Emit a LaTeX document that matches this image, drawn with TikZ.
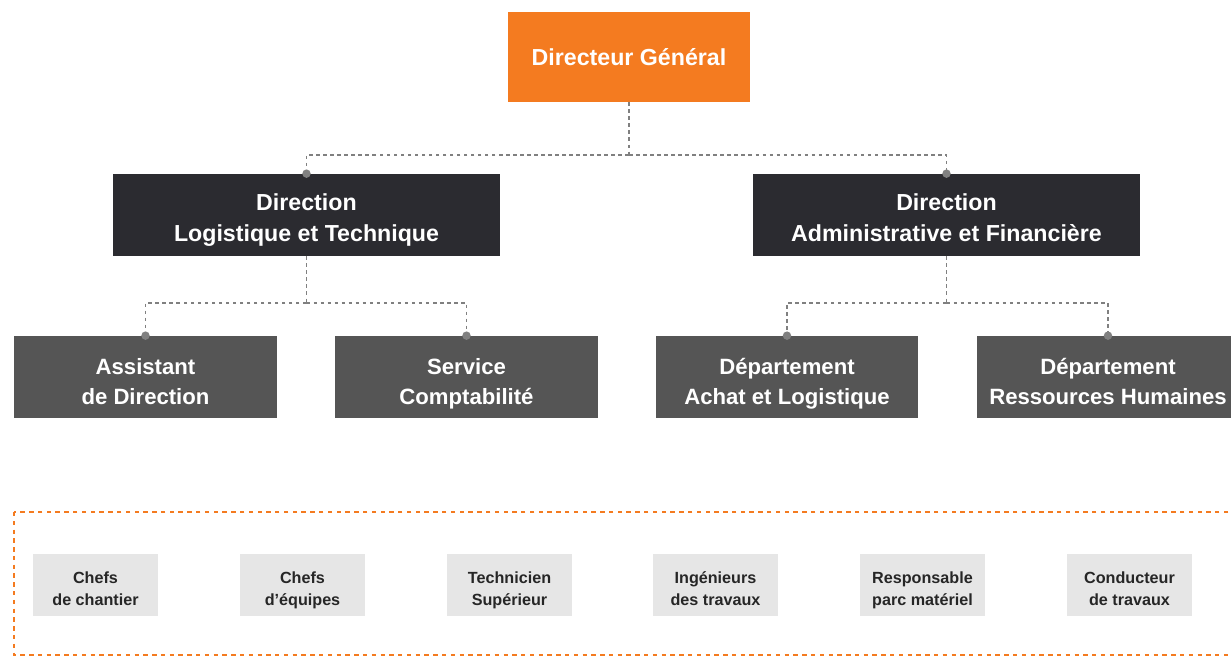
\documentclass[tikz,border=0pt]{standalone}
\usepackage{fontspec}
\setmainfont{Liberation Sans}
\usepackage{xcolor}
\usepackage{tikz}
\definecolor{dgorange}{HTML}{F47B20}
\definecolor{dirdark}{HTML}{2B2B30}
\definecolor{deptgrey}{HTML}{555555}
\definecolor{jobgrey}{HTML}{E6E6E6}
\definecolor{linkgrey}{HTML}{808080}
\newcommand\lift{}
\newcommand\unit[4]{\node[#1] (#2) at (#3) {\lift#4\strut};}
\newcommand\branch[2]{\draw[link] (#1) -| (#2.north); \fill[knob] (#2.north) circle (2.4pt);}

\begin{document}
\begin{tikzpicture}[x=0.02cm,y=-0.02cm]
\tikzstyle{box}=[align=center,inner sep=0pt,text=white]
\tikzstyle{head}=[box,fill=dgorange,minimum width=4.84cm,minimum height=1.8cm,font=\bfseries\fontsize{13.2}{17.5}\selectfont\def\lift{\rule{0pt}{14.5pt}}]
\tikzstyle{dir}=[box,fill=dirdark,minimum width=7.74cm,minimum height=1.64cm,font=\bfseries\fontsize{13.2}{17.5}\selectfont\def\lift{\rule{0pt}{18pt}}]
\tikzstyle{dept}=[box,fill=deptgrey,minimum width=5.26cm,minimum height=1.64cm,font=\bfseries\fontsize{12.6}{17.5}\selectfont\def\lift{\rule{0pt}{19.5pt}}]
\tikzstyle{job}=[box,fill=jobgrey,text=black!85,minimum width=2.5cm,minimum height=1.24cm,font=\bfseries\fontsize{9.2}{12.6}\selectfont\def\lift{\rule{0pt}{14.6pt}}]
\tikzstyle{link}=[linkgrey,line width=1.1pt,dash pattern=on 2pt off 2pt]
\tikzstyle{knob}=[linkgrey]
\useasboundingbox (0,0) rectangle (1231,658);
% top
\unit{head}{dg}{629,57}{Directeur Général}
\unit{dir}{dlt}{306.5,215}{Direction\\Logistique et Technique}
\unit{dir}{daf}{946.5,215}{Direction\\Administrative et Financière}
% departments
\unit{dept}{assist}{145.5,377}{Assistant\\de Direction}
\unit{dept}{compta}{466.5,377}{Service\\Comptabilité}
\unit{dept}{achat}{787,377}{Département\\Achat et Logistique}
\unit{dept}{rh}{1108,377}{Département\\Ressources Humaines}
% junctions
\coordinate (j0) at (629,155);
\coordinate (j1) at (306.5,303);
\coordinate (j2) at (946.5,303);
\draw[link] (dg) -- (j0);
\branch{j0}{dlt}
\branch{j0}{daf}
\draw[link] (dlt) -- (j1);
\branch{j1}{assist}
\branch{j1}{compta}
\draw[link] (daf) -- (j2);
\branch{j2}{achat}
\branch{j2}{rh}
% staff
\draw[dgorange,line width=1pt,dash pattern=on 2.5pt off 2.5pt] (14,512) rectangle (1238,655);
\unit{job}{chantier}{95.5,585}{Chefs\\de chantier}
\unit{job}{equipes}{302.5,585}{Chefs\\d{\char"27}équipes}
\unit{job}{techsup}{509.5,585}{Technicien\\Supérieur}
\unit{job}{ingtrav}{715.5,585}{Ingénieurs\\des travaux}
\unit{job}{parcmat}{922.5,585}{Responsable\\parc matériel}
\unit{job}{condtrav}{1129.5,585}{Conducteur\\de travaux}
\end{tikzpicture}
\end{document}
